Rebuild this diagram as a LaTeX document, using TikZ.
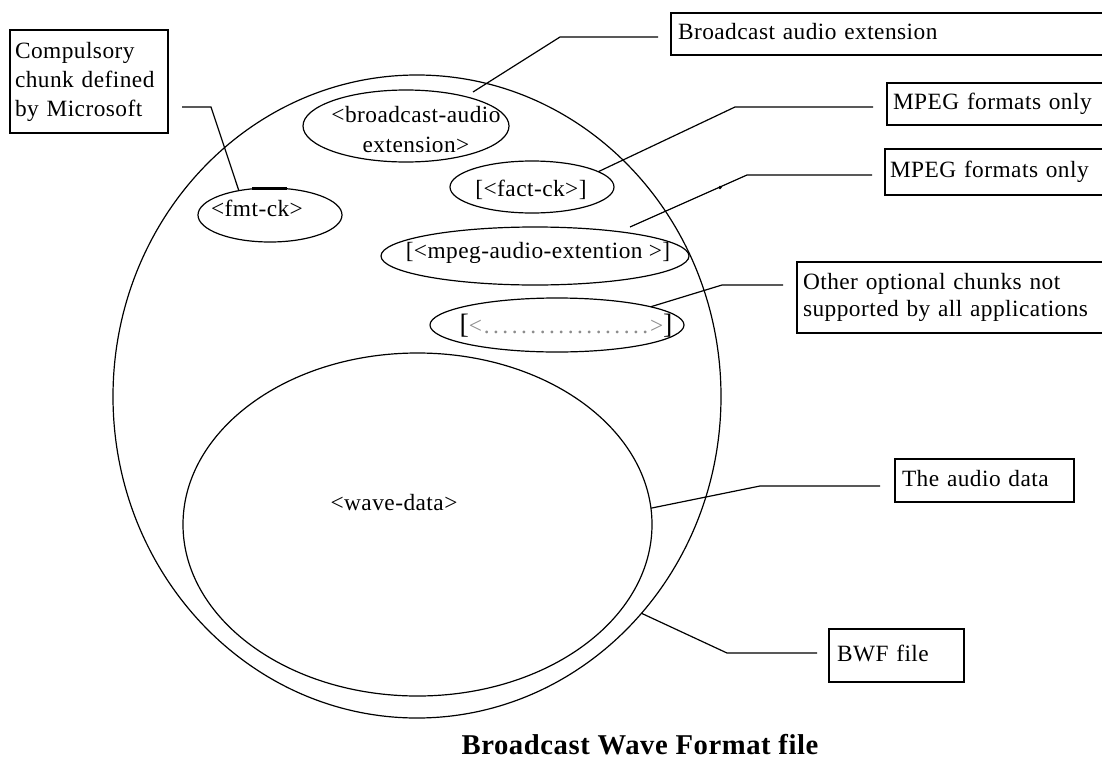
\documentclass[tikz,border=0pt]{standalone}
\usepackage{fontspec}
\setmainfont{Liberation Serif}[LetterSpace=2]
\usetikzlibrary{shapes.geometric}
\definecolor{dotgrey}{RGB}{140,140,140}
\def\pxl{0.75pt}
\begin{document}
\begin{tikzpicture}[x=0.75pt,y=-0.75pt,
  line width=0.9pt,
  every node/.style={font=\fontsize{17.5}{21.75}\selectfont, text=black},
  chunk/.style={draw, ellipse, inner sep=0pt, outer sep=0pt},
  note/.style={draw, rectangle, anchor=west, align=left, inner ysep=2pt, outer sep=0pt},
  oneline/.style={text height=12.25pt, text depth=3.5pt},
  leader/.style={line width=0.9pt},
]
\useasboundingbox (0,0) rectangle (1102,760);

% --- chunks ---------------------------------------------------------------
\node[chunk, minimum width=608*\pxl, minimum height=643*\pxl] (file) at (417,396.5) {};
\node[chunk, minimum width=469*\pxl, minimum height=343*\pxl] (wave) at (417.5,524.5) {};
\node[chunk, minimum width=144*\pxl, minimum height=54*\pxl]  (fmt)  at (270,215) {};
\node[chunk, minimum width=206*\pxl, minimum height=72*\pxl]  (bext) at (406,126) {};
\node[chunk, minimum width=164*\pxl, minimum height=52*\pxl]  (fact) at (532,187) {};
\node[chunk, minimum width=308*\pxl, minimum height=58*\pxl]  (mpeg) at (535,256) {};
\node[chunk, minimum width=254*\pxl, minimum height=54*\pxl]  (other) at (557,325) {};

% thick mark on top of the fmt chunk
\draw[line width=2.2pt] (252,188.5) -- (287,188.5);

% --- chunk names ----------------------------------------------------------
\node[anchor=base] (fmtT)  at (257,216) {<fmt-ck>};
\node[align=center, font=\fontsize{17.5}{22.5}\selectfont] (bextT) at (416,130) {<broadcast-audio\\extension>};
\node[anchor=base] (factT) at (531,196) {[<fact-ck>]};
\node[anchor=base] (mpegT) at (538,258) {[<mpeg-audio-extention >]};
\node[anchor=base] (otherT) at (566,333)
  {{\fontsize{21}{21}\selectfont[}\textcolor{dotgrey}{<\makebox[126pt]{\leaders\hbox to 7pt{\hss.\hss}\hfill}>}{\fontsize{21}{21}\selectfont]}};
\node[anchor=base] (waveT) at (394,510) {<wave-data>};

% --- notes ----------------------------------------------------------------
\node[note, inner xsep=3.75pt, text width=111pt, minimum height=77.25pt,
      font=\fontsize{17.5}{21.75}\selectfont] (compN) at (10,81.5)
  {Compulsory\\chunk defined\\by Microsoft};
\node[note, oneline, inner xsep=5.25pt, text width=314.25pt, minimum height=31.5pt] (bextN) at (671,34)
  {Broadcast audio extension};
\node[note, oneline, inner xsep=4.5pt, text width=153.75pt, minimum height=31.5pt] (factN) at (887,104)
  {MPEG formats only};
\node[note, oneline, inner xsep=3.75pt, text width=156.75pt, minimum height=34.5pt] (mpegN) at (885,172)
  {MPEG formats only};
\node[note, inner xsep=4.5pt, text width=221.25pt, minimum height=53.25pt,
      font=\fontsize{17.5}{20.25}\selectfont] (otherN) at (797,297.5)
  {Other optional chunks not\\supported by all applications};
\node[note, oneline, inner xsep=5.25pt, text width=123.75pt, minimum height=32.25pt] (waveN) at (895,480.5)
  {The audio data};
\node[note, oneline, inner xsep=6pt, text width=89.25pt, minimum height=39.75pt] (fileN) at (829,655.5)
  {BWF file};

% --- leader lines ---------------------------------------------------------
\coordinate (compK) at (211,107);  \coordinate (compE) at (182,107);
\coordinate (bextS) at (473,92);   \coordinate (bextK) at (560,37);  \coordinate (bextE) at (658,37);
\coordinate (factK) at (735,107);  \coordinate (factE) at (873,107);
\coordinate (mpegS) at (630,227);  \coordinate (mpegK) at (747,175); \coordinate (mpegE) at (872,175);
\coordinate (otherK) at (722,285); \coordinate (otherE) at (783,285);
\coordinate (waveK) at (760,486);  \coordinate (waveE) at (880,486);
\coordinate (fileK) at (727,653);  \coordinate (fileE) at (817,653);

\draw[leader] (fmt.142) -- (compK) -- (compE);
\draw[leader] (bextS) -- (bextK) -- (bextE);
\draw[leader] (fact.13) -- (factK) -- (factE);
\draw[leader] (mpegS) -- (mpegK) -- (mpegE);
\fill (720,187.5) circle (1.8);
\draw[leader] (other.11) -- (otherK) -- (otherE);
\draw[leader] (wave.4.5) -- (waveK) -- (waveE);
\draw[leader] (file.-44) -- (fileK) -- (fileE);

% --- caption --------------------------------------------------------------
\node[anchor=base, font=\bfseries\fontsize{21.5}{25}\selectfont] (title) at (640,754)
  {Broadcast Wave Format file};
\end{tikzpicture}
\end{document}
